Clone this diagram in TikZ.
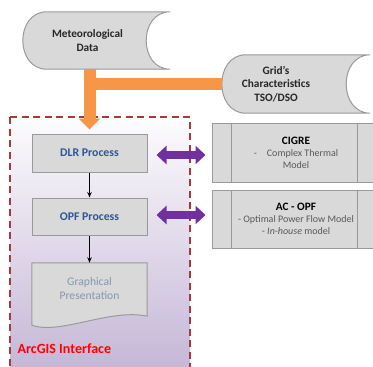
\documentclass[tikz,border=0pt]{standalone}
\usepackage{fontspec}
\setmainfont{Carlito}
\usetikzlibrary{arrows.meta,backgrounds}
\definecolor{BoxGray}{HTML}{D9D9D9}
\definecolor{EdgeGray}{HTML}{9A9A9A}
\definecolor{Flow}{HTML}{F79646}
\definecolor{Link}{HTML}{7030A0}
\definecolor{Frame}{HTML}{A5393B}
\definecolor{Lilac}{HTML}{C4B6D6}
\definecolor{TitleBlue}{HTML}{2F5597}
\definecolor{SoftBlue}{HTML}{8497B0}
\definecolor{Note}{HTML}{595959}
\definecolor{Alert}{HTML}{FF0000}

\begin{document}
\begin{tikzpicture}[x=1pt,y=-1pt,
  every node/.style={align=center,inner sep=0pt},
  storebox/.style={minimum height=57pt,text=black!85,font=\fontsize{11.3}{13.8}\selectfont\bfseries},
  procbox/.style={draw=EdgeGray,fill=BoxGray,line width=1pt,minimum width=115pt,minimum height=37pt,text=TitleBlue,font=\fontsize{11.8}{13}\selectfont\bfseries},
  modelbox/.style={draw=EdgeGray,fill=BoxGray,line width=1pt,minimum width=168pt,minimum height=58pt,text=black,font=\fontsize{10}{12}\selectfont},
  outline/.style={draw=EdgeGray,fill=BoxGray,line width=1pt},
  flowbar/.style={Flow,line width=12pt},
  linkarrow/.style={Link,line width=8pt,{Triangle[width=18pt,length=10pt]}-{Triangle[width=18pt,length=10pt]}},
  steparrow/.style={-{Stealth[length=5.5pt,width=4.5pt]},line width=1pt}]
\useasboundingbox (0,0) rectangle (373,367);
% frame of the GIS part
\begin{scope}[on background layer]
\shade[top color=white!96!Lilac,bottom color=Lilac] (10,117) rectangle (190,372);
\draw[Frame,line width=1.6pt,dash pattern=on 7pt off 4.5pt] (10,117) rectangle (190,372);
\end{scope}
% inputs
\node[storebox,minimum width=129pt] (met) at (87.5,40.5) {Meteorological\\Data};
\node[storebox,minimum width=108pt,minimum height=58pt,font=\fontsize{11.3}{13.5}\selectfont\bfseries] (grid) at (276,84) {Grid's\\Characteristics\\TSO/DSO};
% GIS chain
\node[procbox,minimum height=38pt] (dlr) at (89.5,153) {DLR Process};
\node[procbox] (opf) at (89.5,216.5) {OPF Process};
\node[minimum width=115pt,minimum height=52pt,text=SoftBlue,font=\fontsize{11.6}{14}\selectfont] (graph) at (89.5,289) {Graphical\\Presentation};
\node[anchor=west,text=Alert,font=\fontsize{14}{16}\selectfont\bfseries] (arcgis) at (17.5,349) {ArcGIS Interface};
% models
\node[modelbox,minimum height=59pt] (cigre) at (296,152.5) {\textbf{\fontsize{11.3}{13}\selectfont CIGRE}\\[0pt]\textcolor{Note}{-\quad Complex Thermal}\\\textcolor{Note}{Model}};
\node[modelbox] (acopf) at (296,219) {\textbf{\fontsize{11.3}{13}\selectfont AC - OPF}\\[0pt]\textcolor{Note}{- Optimal Power Flow Model}\\\textcolor{Note}{- \textit{In-house} model}};
\begin{scope}[on background layer]
\foreach \s/\e in {met/18pt,grid/40pt}
  \draw[outline] ([xshift=24pt]\s.north west) -- ([xshift=\e]\s.north east) .. controls ([xshift=\e-32pt]\s.north east) and ([xshift=\e-32pt]\s.south east) .. ([xshift=\e]\s.south east) -- ([xshift=24pt]\s.south west) .. controls ([xshift=-8pt]\s.south west) and ([xshift=-8pt]\s.north west) .. cycle;
\draw[outline] (graph.north west) -- (graph.north east) -- ([yshift=-1pt]graph.south east) .. controls ([xshift=-37pt,yshift=7pt]graph.south east) and ([xshift=28pt,yshift=-20pt]graph.south west) .. ([yshift=-10pt]graph.south west) -- cycle;
\end{scope}
\foreach \b in {cigre,acopf}
  \draw[EdgeGray,line width=1pt] ([xshift=20pt]\b.north west) -- ([xshift=20pt]\b.south west) ([xshift=-23pt]\b.north east) -- ([xshift=-23pt]\b.south east);
% connectors
\draw[flowbar] (grid.west) -- (grid.west -| dlr.north);
\draw[flowbar,-{Triangle[width=21pt,length=11pt]}] (met.south -| dlr.north) -- ([yshift=4pt]dlr.north);
\draw[steparrow] (dlr) -- (opf);
\draw[steparrow] (opf) -- (graph);
\draw[linkarrow] ([xshift=9pt,yshift=-2pt]dlr.east) -- ([xshift=-6pt,yshift=-2pt]dlr.east -| cigre.west);
\draw[linkarrow] ([xshift=9pt,yshift=1.5pt]opf.east) -- ([xshift=-6pt,yshift=1.5pt]opf.east -| acopf.west);
\end{tikzpicture}
\end{document}
